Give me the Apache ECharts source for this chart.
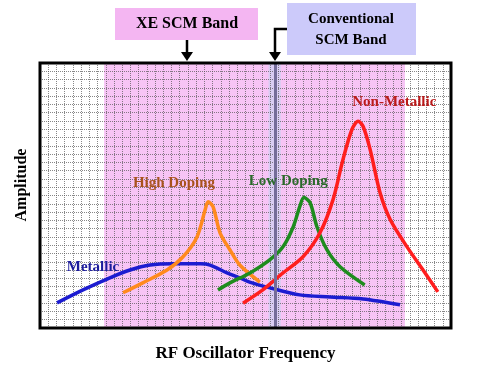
<!DOCTYPE html>
<html>
<head>
<meta charset="utf-8">
<script src="https://cdn.jsdelivr.net/npm/echarts@6/dist/echarts.min.js"></script>
<style>html,body{margin:0;padding:0;background:#fff}#c{width:477px;height:368px}</style>
</head>
<body>
<div id="c"></div>
<script>
// Frequency / amplitude in grid units (x: 0..50, y: 0..32)
var metallic = [[2.07,3.03],[5.23,4.6],[8.5,6.06],[10.95,7.0],[13.4,7.6],[16.2,7.75],[19.5,7.75],[20.7,7.6],[22.75,6.65],[24.3,6.05],[25.5,5.55],[28.0,4.85],[31.6,4.0],[35.3,3.75],[39.3,3.5],[43.8,2.8]];
var highDoping = [[10.1,4.25],[12.5,5.45],[15.45,7.0],[17.4,8.6],[19.1,11.0],[20.1,14.3],[20.45,15.25],[21.05,14.65],[21.9,11.5],[23.1,9.45],[24.3,7.6],[26.75,5.55]];
var lowDoping = [[21.65,4.6],[23.1,5.45],[25.55,6.65],[27.98,8.25],[29.56,9.8],[30.8,12.2],[31.6,14.65],[32.1,15.75],[32.85,15.15],[33.7,12.2],[34.9,9.45],[36.5,7.4],[39.5,5.2]];
var nonMetallic = [[24.7,3.0],[27.1,4.6],[29.56,6.65],[32.0,8.6],[34.06,11.5],[35.65,15.5],[36.86,20.35],[37.96,24.0],[38.7,24.97],[39.3,24.36],[40.15,21.6],[41.36,16.36],[42.6,13.1],[44.65,9.8],[46.6,7.0],[48.4,4.36]];
var seriesNames = ['Metallic','High Doping','Low Doping','Non-Metallic'];
var labelPos = [[6.45,7.4],[16.3,17.45],[30.2,17.7],[43.1,27.3]];
var xeBand = [7.8, 44.4];
var convBand = [27.8, 29.3];
var convLine = 28.6;

var serif = '"Liberation Serif","DejaVu Serif",serif';
var lineColors = ['#1c1cd0','#ff8a1e','#1e8c1e','#ff1e1e'];
var textColors = ['#1c1c9c','#a8521c','#2a6a2a','#bb1a1a'];
var dataSets = [metallic, highDoping, lowDoping, nonMetallic];

var series = [{
  type:'line', data:[], z:0, silent:true,
  markArea:{silent:true, z:0, data:[
    [{xAxis:xeBand[0], itemStyle:{color:'#f7c4f5'}},{xAxis:xeBand[1]}],
    [{xAxis:convBand[0], itemStyle:{color:'#d9ccf2'}},{xAxis:convBand[1]}]
  ]}
},{
  type:'line', data:[], z:5, silent:true,
  markLine:{silent:true, symbol:'none', label:{show:false},
    lineStyle:{color:'#746c98', width:3, type:'solid'},
    data:[{xAxis:convLine}]}
}];
dataSets.forEach(function(d,i){
  series.push({
    name: seriesNames[i], type:'line', data:d, smooth:0.3, symbol:'none', z:4,
    lineStyle:{color:lineColors[i], width:3.5},
    markPoint:{symbol:'circle', symbolSize:0, silent:true,
      data:[{coord:labelPos[i], value:seriesNames[i]}],
      label:{show:true, position:'inside', formatter:seriesNames[i],
        fontFamily:serif, fontWeight:'bold', fontSize:15, color:textColors[i]}}
  });
});

var gridLine = {show:true, lineStyle:{color:'#555', type:[1,1], width:1, opacity:0.7}};
var chart = echarts.init(document.getElementById('c'), null, {renderer:'canvas'});
chart.setOption({
  animation:false,
  backgroundColor:'#fff',
  grid:{left:40, right:26, top:63, bottom:40, show:true, z:6, borderColor:'#000', borderWidth:3, backgroundColor:'transparent'},
  xAxis:{type:'value', min:0, max:50, interval:1, z:2,
    name:'RF Oscillator Frequency', nameLocation:'middle', nameGap:17,
    nameTextStyle:{fontFamily:serif, fontWeight:'bold', fontSize:17, color:'#000'},
    axisLine:{show:false}, axisTick:{show:false}, axisLabel:{show:false},
    splitLine:gridLine},
  yAxis:{type:'value', min:0, max:32, interval:1, z:2,
    axisLine:{show:false}, axisTick:{show:false}, axisLabel:{show:false},
    splitLine:gridLine},
  graphic:[
    {type:'text', x:22, y:185, rotation:Math.PI/2, style:{text:'Amplitude', font:'bold 16px '+serif, fill:'#000', align:'center', verticalAlign:'middle'}},
    {type:'rect', shape:{x:115,y:8,width:143,height:32}, style:{fill:'#f4b6f2'}},
    {type:'text', x:187, y:24, style:{text:'XE SCM Band', font:'bold 16px '+serif, fill:'#000', align:'center', verticalAlign:'middle'}},
    {type:'rect', shape:{x:287,y:3,width:129,height:52}, style:{fill:'#cccafa'}},
    {type:'text', x:351, y:19, style:{text:'Conventional', font:'bold 15px '+serif, fill:'#000', align:'center', verticalAlign:'middle'}},
    {type:'text', x:351, y:40, style:{text:'SCM Band', font:'bold 15px '+serif, fill:'#000', align:'center', verticalAlign:'middle'}},
    {type:'line', shape:{x1:187,y1:40,x2:187,y2:53}, style:{stroke:'#000', lineWidth:2.5}},
    {type:'polygon', shape:{points:[[181,52],[193,52],[187,61]]}, style:{fill:'#000'}},
    {type:'polyline', shape:{points:[[287,29],[275,29],[275,53]]}, style:{stroke:'#000', lineWidth:2.5, fill:null}},
    {type:'polygon', shape:{points:[[269,52],[281,52],[275,61]]}, style:{fill:'#000'}}
  ],
  series:series
});
</script>
</body>
</html>
